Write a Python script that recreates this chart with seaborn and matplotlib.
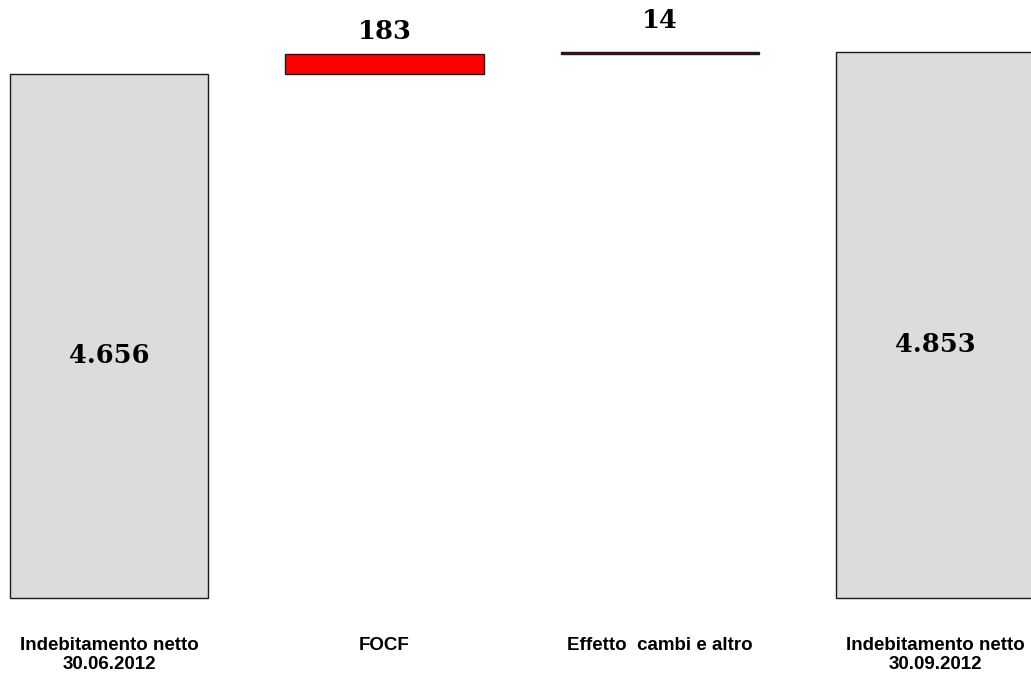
import matplotlib
matplotlib.use("Agg")
import matplotlib.pyplot as plt
import seaborn as sns
import pandas as pd

# Net debt bridge (EUR mn)
categories = ["Indebitamento netto\n30.06.2012", "FOCF", "Effetto  cambi e altro",
              "Indebitamento netto\n30.09.2012"]
values = [4656, 183, 14, 4853]
is_total = [True, False, False, True]
value_labels = ["4.656", "183", "14", "4.853"]
bar_colors = ["#DCDCDC", "#FF0000", "#8B0000", "#DCDCDC"]

# floating bases for the waterfall steps
bases = []
running = 0
for v, tot in zip(values, is_total):
    if tot:
        bases.append(0)
        running = v
    else:
        bases.append(running)
        running += v

sns.set_theme(style="white")
plt.rcParams["font.family"] = ["Liberation Sans", "DejaVu Sans"]

fig = plt.figure(figsize=(10.31, 6.73), dpi=100)
ax = fig.add_axes([0, 75 / 673, 1, 598 / 673])

for cat, v, b, c in zip(categories, values, bases, bar_colors):
    df = pd.DataFrame({"cat": [cat], "val": [v]})
    sns.barplot(data=df, x="cat", y="val", order=categories, color=c,
                saturation=1, width=0.72, bottom=b, edgecolor="#1a1a1a",
                linewidth=1.0, ax=ax, errorbar=None)
for p in ax.patches:
    p.set_clip_on(False)

label_offsets = [-14, 16, 22.5, -14]
for i, (v, b, tot, lab, off) in enumerate(zip(values, bases, is_total, value_labels, label_offsets)):
    if tot:
        y = v / 2
    else:
        y = b + v
    ax.annotate(lab, xy=(i, y), xytext=(0, off), textcoords="offset points",
                ha="center", va="center", fontsize=18.5, fontweight="bold",
                family="DejaVu Serif", color="black")

ax.set_xlim(-0.396, 3.348)
ax.set_ylim(0, 4853 + 52 / (546 / 4853))
ax.set_xlabel("")
ax.set_ylabel("")
ax.set_yticks([])
ax.set_xticks(range(len(categories)))
ax.set_xticklabels(categories, fontsize=13.5, fontweight="bold", linespacing=1.15,
                   color="black")
ax.tick_params(axis="x", length=0, pad=28)
for s in ax.spines.values():
    s.set_visible(False)

fig.savefig("out.png", dpi=100, facecolor="white")
